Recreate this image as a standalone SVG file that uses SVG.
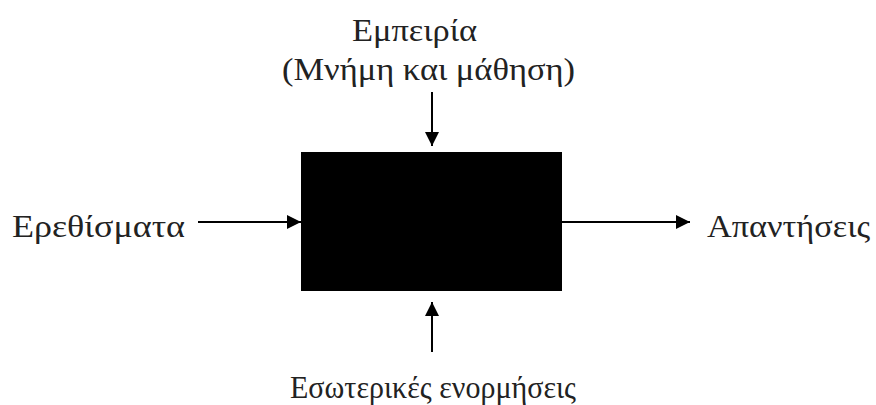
<svg xmlns="http://www.w3.org/2000/svg" width="876" height="405" viewBox="0 0 876 405">
<style>
text{font-family:"Liberation Serif","DejaVu Serif",serif;font-size:31px;fill:#222}
.c{stroke:#000;stroke-width:2;fill:none}
</style>
<defs>
<marker id="ah" viewBox="0 0 10 10" refX="10" refY="5" markerWidth="14" markerHeight="14" markerUnits="userSpaceOnUse" orient="auto">
<path d="M0,0 L10,5 L0,10 z" fill="#000"/>
</marker>
</defs>
<rect width="876" height="405" fill="#fff"/>
<g id="box"><rect x="301" y="152" width="261" height="139" fill="#000"/></g>
<g id="top"><text x="352" y="41" textLength="125" lengthAdjust="spacingAndGlyphs">Εμπειρία</text><text x="282" y="80" textLength="293" lengthAdjust="spacingAndGlyphs">(Μνήμη και μάθηση)</text></g>
<g id="left"><text x="12" y="237" textLength="173" lengthAdjust="spacingAndGlyphs">Ερεθίσματα</text></g>
<g id="right"><text x="707" y="237" textLength="163" lengthAdjust="spacingAndGlyphs">Απαντήσεις</text></g>
<g id="bottom"><text x="290" y="398" textLength="286" lengthAdjust="spacingAndGlyphs">Εσωτερικές ενορμήσεις</text></g>
<g id="connectors">
<line class="c" x1="432" y1="92" x2="432" y2="146" marker-end="url(#ah)"/>
<line class="c" x1="198" y1="222" x2="301" y2="222" marker-end="url(#ah)"/>
<line class="c" x1="562" y1="222" x2="690" y2="222" marker-end="url(#ah)"/>
<line class="c" x1="432" y1="352" x2="432" y2="302" marker-end="url(#ah)"/>
</g>
</svg>
